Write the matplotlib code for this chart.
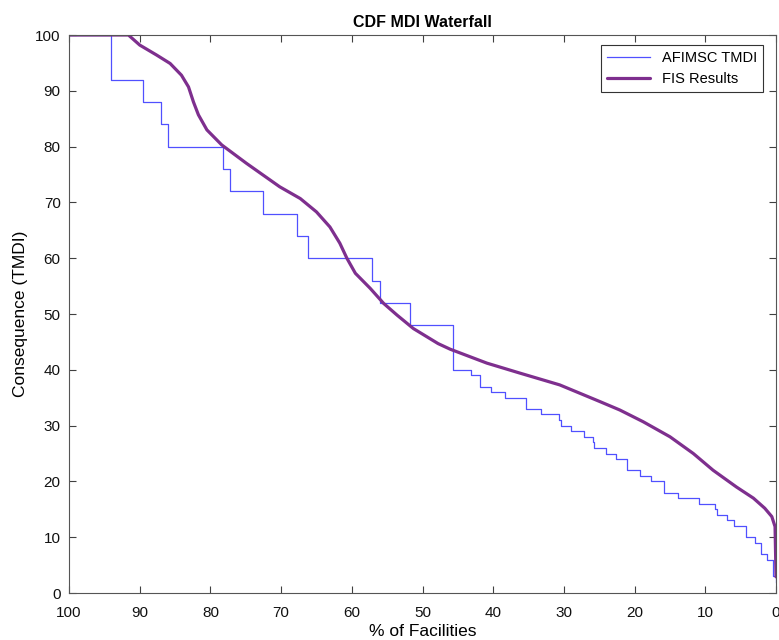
import matplotlib
matplotlib.use("Agg")
import matplotlib.pyplot as plt

plt.rcParams['font.family'] = ['Liberation Sans', 'DejaVu Sans']

# AFIMSC TMDI step data (x = % of facilities, y = level after the drop)
tmdi_x = [100, 94, 89.5, 87, 86, 78.2, 77.2, 72.6, 67.8, 66.2, 57.1, 56, 51.8, 45.7,
          43.2, 41.9, 40.3, 38.3, 35.3, 33.2, 30.7, 30.4, 29.0, 27.1, 25.9, 25.7,
          24.1, 22.7, 21.1, 19.2, 17.7, 15.8, 13.8, 10.9, 8.6, 8.4, 6.9, 5.9, 4.3,
          3.0, 2.1, 1.3, 0.5, 0.0]
tmdi_y = [100, 92, 88, 84, 80, 76, 72, 68, 64, 60, 56, 52, 48, 40,
          39, 37, 36, 35, 33, 32, 31, 30, 29, 28, 27, 26,
          25, 24, 22, 21, 20, 18, 17, 16, 15, 14, 13, 12, 10,
          9, 7, 6, 3, 2]

# FIS results curve
fis_x = [100, 91.6, 90.0, 87.6, 85.7, 84.1, 83.1, 82.4, 81.7, 80.5, 78.4, 74.9,
         70.2, 67.3, 65.0, 63.1, 61.7, 60.7, 59.5, 57.4, 55.5, 53.6, 51.3, 47.8,
         46.1, 40.9, 36.2, 30.6, 24.9, 22.1, 18.8, 15.0, 11.7, 8.9, 5.6, 3.2,
         1.6, 0.6, 0.14, 0.0]
fis_y = [100, 100, 98.2, 96.4, 94.9, 92.8, 90.7, 88.0, 85.7, 83.0, 80.3, 77.0,
         72.8, 70.7, 68.3, 65.6, 62.7, 60.0, 57.3, 54.6, 51.9, 49.8, 47.4, 44.7,
         43.7, 41.2, 39.4, 37.3, 34.3, 32.8, 30.7, 28.0, 25.0, 22.0, 19.0, 17.0,
         15.2, 13.7, 11.9, 2.9]

fig = plt.figure(figsize=(7.79, 6.4), dpi=100)
ax = fig.add_axes([0.0886, 0.0734, 0.9076, 0.8719])

ax.plot(tmdi_x, tmdi_y, drawstyle='steps-post', color='#5050ff', lw=0.9, label='AFIMSC TMDI')
ax.plot(fis_x, fis_y, color='#7E2F8E', lw=2.3, label='FIS Results',
        solid_joinstyle='round', solid_capstyle='round')

ax.set_xlim(100, 0)
ax.set_ylim(0, 100)
ax.set_xticks(range(0, 101, 10))
ax.set_yticks(range(0, 101, 10))
ax.tick_params(direction='in', top=True, right=True, labelsize=11, length=5,
               color='#404040', labelcolor='#111111')
ax.tick_params(axis='x', pad=9)
ax.tick_params(axis='y', pad=6)
for s in ax.spines.values():
    s.set_color('#555555')
    s.set_linewidth(0.8)

ax.set_title('CDF MDI Waterfall', fontsize=11.5, fontweight='bold', pad=6)
ax.set_xlabel('% of Facilities', fontsize=12.5, labelpad=3)
ax.set_ylabel('Consequence (TMDI)', fontsize=12.5, labelpad=5)

leg = ax.legend(loc='upper right', bbox_to_anchor=(0.9816, 0.982), borderaxespad=0,
                fontsize=10.5, fancybox=False, framealpha=1,
                edgecolor='#333333', handlelength=3.0)
leg.get_frame().set_linewidth(0.8)

fig.savefig('out.png', dpi=100)
